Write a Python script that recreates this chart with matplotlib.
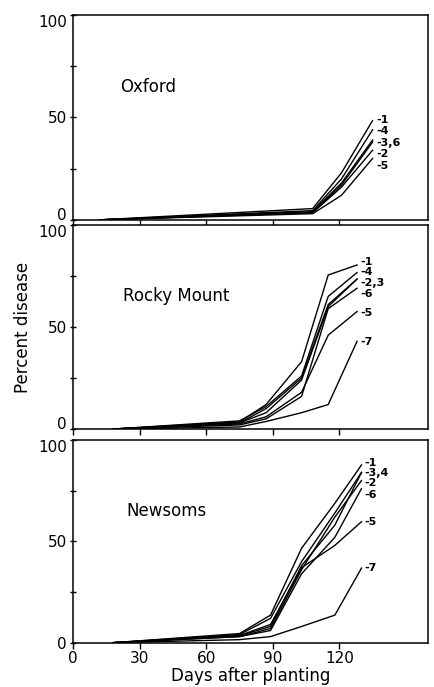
import matplotlib
matplotlib.use("Agg")
import matplotlib.pyplot as plt

plt.rcParams['font.family'] = ['DejaVu Sans']

# Oxford
oxford_days = [12, 108, 121, 135]
oxford_values = [
    [0, 5.5, 23, 48.5],   # 1
    [0, 4.5, 20, 44],     # 4
    [0, 4, 18, 39],       # 3
    [0, 3.5, 17, 38],     # 6
    [0, 3.5, 16, 34],     # 2
    [0, 3, 12, 30],       # 5
]
oxford_labels = ["-1", "-4", "-3,6", "-2", "-5"]
oxford_label_y = [49, 43.5, 37.5, 32, 26.5]

# Rocky Mount
rocky_days = [18, 75, 87, 103, 115, 128]
rocky_values = [
    [0, 3.5, 12, 33, 75.5, 80.4],   # 1
    [0, 4, 11, 26, 65, 76.7],       # 4
    [0, 3, 10, 25, 61, 73.5],       # 2
    [0, 3, 8, 24, 60, 73.5],        # 3
    [0, 2, 5, 16, 59, 69],          # 6
    [0, 2.5, 6, 18, 46, 57.6],      # 5
    [0, 1, 3.7, 8, 12, 43],         # 7
]
rocky_labels = ["-1", "-4", "-2,3", "-6", "-5", "-7"]
rocky_label_y = [82, 77, 71.8, 66.2, 57, 42.5]

# Newsoms
newsoms_days = [18, 75, 89, 103, 118, 130]
newsoms_values = [
    [0, 4.5, 13.6, 46.6, 68.8, 87.7],  # 1
    [0, 4, 12, 40, 64, 84],            # 3
    [0, 3.5, 8, 38, 58, 84],           # 4
    [0, 3, 7, 36, 62, 80],             # 2
    [0, 3, 6, 34, 52, 76],             # 6
    [0, 3.5, 9, 37, 48, 59.7],         # 5
    [0, 1.5, 3, 8, 13.6, 36.8],        # 7
]
newsoms_labels = ["-1", "-3,4", "-2", "-6", "-5", "-7"]
newsoms_label_y = [88.5, 83.6, 78.6, 73, 59.7, 36.7]

panels = [
    ("Oxford", oxford_days, oxford_values, oxford_labels, oxford_label_y),
    ("Rocky Mount", rocky_days, rocky_values, rocky_labels, rocky_label_y),
    ("Newsoms", newsoms_days, newsoms_values, newsoms_labels, newsoms_label_y),
]

fig = plt.figure(figsize=(4.35, 6.87), dpi=100)
# axes boxes in figure fractions (left, bottom, width, height)
boxes = [
    (0.168, 0.680, 0.816, 0.298),
    (0.168, 0.3755, 0.816, 0.297),
    (0.168, 0.0645, 0.816, 0.295),
]

for i, (name, days, values, labels, label_y) in enumerate(panels):
    ax = fig.add_axes(boxes[i])
    for v in values:
        ax.plot(days, v, color="black", lw=1.0)
    lx = days[-1] + 1.5
    for lab, ly in zip(labels, label_y):
        ax.text(lx, ly, lab, fontsize=8, fontweight="bold", va="center", ha="left")
    ax.text(21 + i * 1.5, 65, name, fontsize=12, va="center", ha="left")

    ax.set_xlim(0, 160)
    ax.set_ylim(0, 100)
    ax.set_yticks([0, 25, 50, 75, 100])
    ax.set_yticklabels(["0", "", "50", "", "100"], fontsize=11)
    ax.set_xticks([0, 30, 60, 90, 120])
    ax.tick_params(axis="y", direction="inout", length=5, width=1, pad=2)
    ax.tick_params(axis="x", direction="out", length=4, width=1, pad=2)
    for s in ax.spines.values():
        s.set_linewidth(1.1)

    # keep the stacked 0 / 100 labels from running into each other
    ylabs = ax.get_yticklabels()
    ylabs[-1].set_va("top")
    if i < 2:
        ylabs[0].set_va("baseline")

    if i < 2:
        ax.set_xticklabels([])
    else:
        ax.set_xticklabels(["0", "30", "60", "90", "120"], fontsize=11)
        ax.set_xlabel("Days after planting", fontsize=12, labelpad=1)
    if i == 1:
        ax.set_ylabel("Percent disease", fontsize=12, labelpad=4)

fig.savefig("out.png", dpi=100)
